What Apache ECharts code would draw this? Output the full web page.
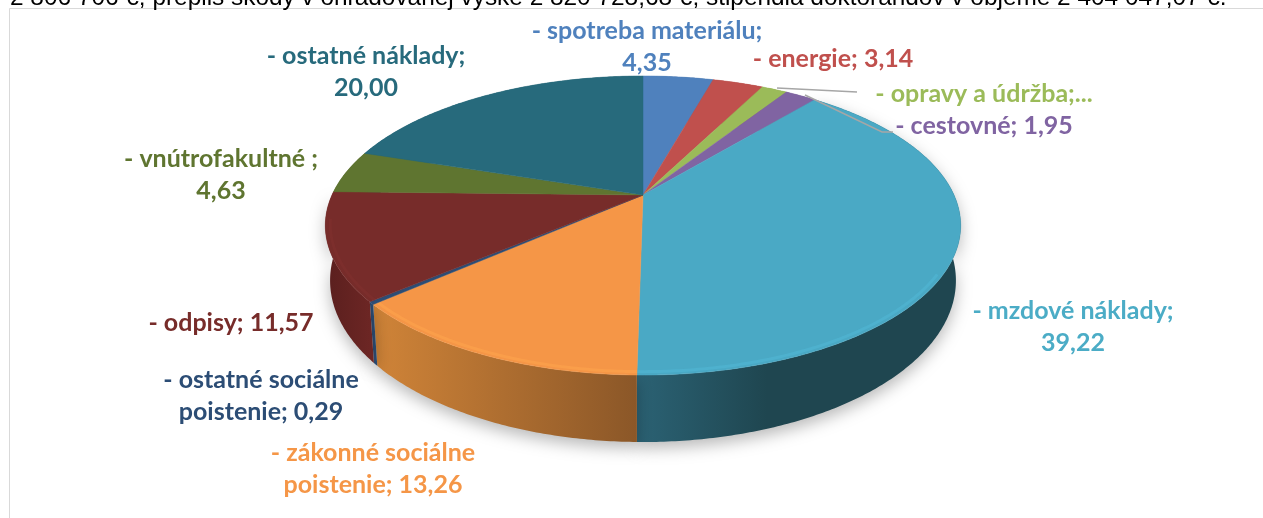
<!DOCTYPE html>
<html>
<head>
<meta charset="UTF-8">
<title></title>
<style>
	html,body{margin:0;padding:0;background:#fff;}
	#main{width:1263px;height:518px;}
</style>
</head>
<body>
<div id="main"></div>
<script src="https://cdn.jsdelivr.net/npm/echarts@6/dist/echarts.min.js"></script>
<script>
// podiel nakladov v %, poradie ako v kolaci (v smere hodin od 12:00)
var categories = ['spotreba materiálu','energie','opravy a údržba','cestovné','mzdové náklady','zákonné sociálne poistenie','ostatné sociálne poistenie','odpisy','vnútrofakultné','ostatné náklady'];
var values = [4.35,3.14,1.59,1.95,39.22,13.26,0.29,11.57,4.63,20.00];
var labelTemplates = ['- spotreba materiálu;\n{v}','- energie; {v}','- opravy a údržba;...','- cestovné; {v}','- mzdové náklady;\n{v}','- zákonné sociálne\npoistenie; {v}','- ostatné sociálne\npoistenie; {v}','- odpisy; {v}','- vnútrofakultné ;\n{v}','- ostatné náklady;\n{v}'];

var topColors = ['#4f81bd','#c0504d','#9bbb59','#8064a2','#4aa9c5','#f59647','#2c4d75','#772c2a','#5f7530','#276a7c'];
var wallColors = [
	['#3f6797','#3f6797'],['#9a403e','#9a403e'],['#7c9647','#7c9647'],['#665082','#665082'],
	['#2b6274','#1f4650'],['#d08438','#8b5728'],['#2c4d75','#2c4d75'],['#5a1f1e','#6c2624'],
	['#4c5e26','#4c5e26'],['#1f5563','#1f5563']
];
var labelPos = [[647,47],[833,59],[984,94],[984,126],[1073,327],[373,469],[261,396],[231,323],[221,175],[366,72]];
var leaders = [[[777,88],[857,92]],[[805,95],[882,132],[893,132]]];

// kruh -> perspektiva, stred kolaca nie je v strede elipsy
var cx = 643, cy = 195, R = 311, H = 143.3, k = 0.204;
var total = values.reduce(function(a,b){return a+b;},0);

function project(a, r){
	var u = Math.sin(a)*r, v = Math.cos(a)*r, w = 1+k*v;
	return [cx+R*u/w, cy-H*v/w];
}
function lower(p){
	return [cx+(p[0]-cx)*0.985, cy+(p[1]-cy)*1.08+52.6];
}
function sliceAngles(i){
	var sum = 0;
	for(var j=0;j<i;j++){ sum += values[j]; }
	return [sum/total*Math.PI*2, (sum+values[i])/total*Math.PI*2];
}
function arc(a0,a1,r){
	var n = Math.max(2,Math.ceil((a1-a0)/0.01)), pts = [];
	for(var j=0;j<=n;j++){ pts.push(project(a0+(a1-a0)*j/n,r)); }
	return pts;
}

function renderWall(params){
	var a = sliceAngles(params.dataIndex);
	var rim = arc(a[0],a[1],1);
	var points = rim.concat(rim.map(lower).reverse());
	var xs = rim.map(function(p){return p[0];});
	var c = wallColors[params.dataIndex];
	var x0 = Math.min.apply(null,xs), x1 = Math.max.apply(null,xs);
	// mzdove naklady tmavnu rychlo, orange az po stred
	return {
		type:'polygon',
		shape:{points:points},
		style:{
			fill:new echarts.graphic.LinearGradient(x0,0,Math.min(x1,x0+(params.dataIndex==4?130:x1-x0)),0,[{offset:0,color:c[0]},{offset:1,color:c[1]}],true),
			stroke:null,
			shadowBlur:params.dataIndex<4||params.dataIndex>7?0:16,
			shadowColor:'rgba(0,0,0,0.28)',
			shadowOffsetY:6
		}
	};
}

function renderTop(params){
	var i = params.dataIndex;
	var a = sliceAngles(i);
	var children = [{
		type:'polygon',
		shape:{points:[[cx,cy]].concat(arc(a[0],a[1],1))},
		style:{fill:topColors[i],stroke:topColors[i],lineWidth:0.5}
	}];
	// svetlejsia hrana na prednej strane
	var f0 = Math.max(a[0],2.1), f1 = Math.min(a[1],4.55);
	if(f1>f0 && i!=6){
		children.push({
			type:'polyline',
			shape:{points:arc(f0,f1,0.985)},
			style:{fill:null,stroke:echarts.color.lift(topColors[i],-0.1),lineWidth:3,opacity:0.5}
		});
	}
	return {type:'group',children:children};
}

function renderLabel(params){
	var i = params.dataIndex;
	var text = labelTemplates[i].replace('{v}',values[i].toFixed(2).replace('.',','));
	return {
		type:'text',
		x:labelPos[i][0],
		y:labelPos[i][1],
		style:{
			text:text,
			fill:topColors[i]=='#4aa9c5'?'#4bacc6':topColors[i],
			font:'bold 25px Lato',
			lineHeight:32,
			align:'center',
			verticalAlign:'middle'
		}
	};
}

var data = values.map(function(v,i){return {name:categories[i],value:v};});

var myChart = echarts.init(document.getElementById('main'),null,{renderer:'canvas'});
myChart.setOption({
	animation:false,
	backgroundColor:'#fff',
	graphic:[
		{type:'rect',z:0,shape:{x:9.5,y:8.5,width:1300,height:560},style:{fill:'#fff',stroke:'#d9d9d9',lineWidth:1}},
		{type:'text',z:0,x:10,y:10,style:{text:'2 806 706 €, preplis škody v ohľadovanej výške 2 820 728,68 €, štipendiá doktorandov v objeme 2 404 047,07 €.',fill:'#000',font:'24.4px "Liberation Sans"',verticalAlign:'bottom'}}
	],
	series:[
		{type:'custom',coordinateSystem:'none',z:2,data:data,renderItem:renderWall,silent:true},
		{type:'custom',coordinateSystem:'none',z:3,data:data,renderItem:renderTop,silent:true},
		{type:'custom',coordinateSystem:'none',z:4,data:data,renderItem:renderLabel,silent:true},
		{type:'custom',coordinateSystem:'none',z:5,data:leaders.map(function(l,i){return i;}),silent:true,
			renderItem:function(params){
				return {type:'polyline',shape:{points:leaders[params.dataIndex]},style:{fill:null,stroke:'#a6a6a6',lineWidth:1.5}};
			}
		}
	]
});
</script>
</body>
</html>
